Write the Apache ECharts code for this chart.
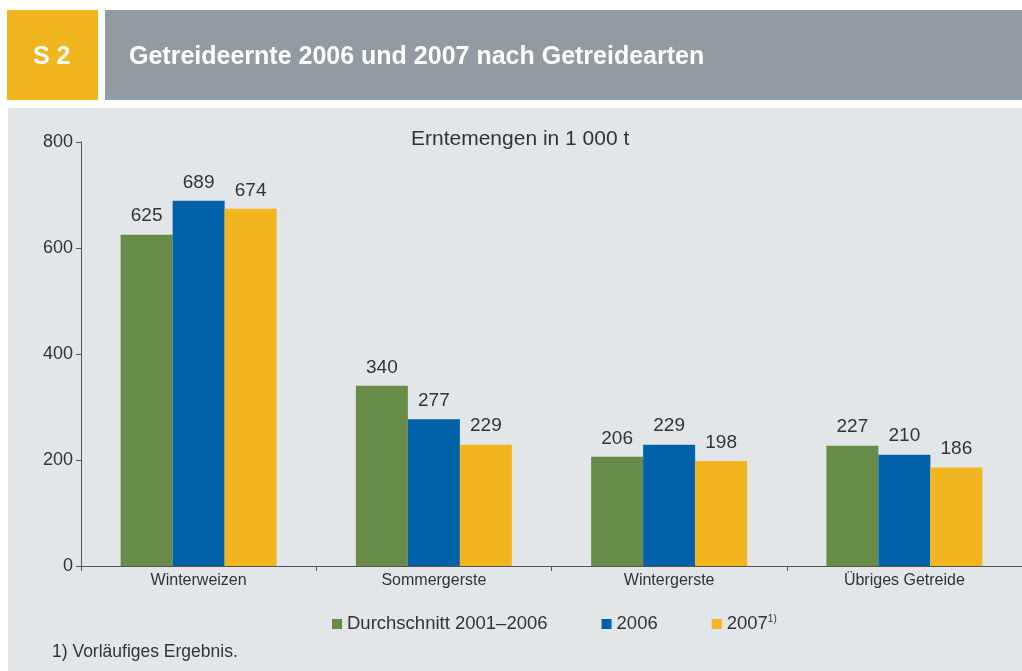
<!DOCTYPE html>
<html>
<head>
<meta charset="utf-8">
<script src="https://cdn.jsdelivr.net/npm/echarts@6/dist/echarts.min.js"></script>
<style>
  html, body { margin: 0; padding: 0; background: #fff; }
  #chart { width: 1022px; height: 671px; }
</style>
</head>
<body>
<div id="chart"></div>
<script>
const categories = ["Winterweizen", "Sommergerste", "Wintergerste", "Übriges Getreide"];
const avg20012006 = [625, 340, 206, 227];
const harvest2006 = [689, 277, 229, 210];
const harvest2007 = [674, 229, 198, 186];
const yTicks = [0, 200, 400, 600, 800];

const FONT = "Liberation Sans";
const TEXT = "#333";

const chart = echarts.init(document.getElementById("chart"));

const barLabel = {
  show: true,
  position: "top",
  distance: 9,
  color: TEXT,
  fontFamily: FONT,
  fontSize: 19,
};

chart.setOption({
  backgroundColor: "#fff",
  textStyle: { fontFamily: FONT },
  graphic: [
    // header
    { type: "rect", left: 7, top: 10, shape: { width: 91, height: 90 }, style: { fill: "#f0b51f" }, z: 0 },
    { type: "rect", left: 105, top: 10, shape: { width: 917, height: 90 }, style: { fill: "#929aa2" }, z: 0 },
    { type: "text", left: 33, top: 45, style: { text: "S 2", fill: "#fff", font: "bold 25px " + FONT }, z: 1 },
    { type: "text", left: 129, top: 45, style: { text: "Getreideernte 2006 und 2007 nach Getreidearten", fill: "#fff", font: "bold 25px " + FONT }, z: 1 },
    // panel
    { type: "rect", left: 8, top: 108, shape: { width: 1014, height: 563 }, style: { fill: "#e3e6e9" }, z: -10 },
    { type: "text", left: 52, top: 643, style: { text: "1) Vorläufiges Ergebnis.", fill: TEXT, font: "17.5px " + FONT }, z: 1 },
  ],
  title: {
    text: "Erntemengen in 1 000 t",
    left: 406,
    top: 124,
    textStyle: { color: TEXT, fontFamily: FONT, fontSize: 21, fontWeight: "normal" },
  },
  legend: {
    left: 327,
    top: 609,
    icon: "rect",
    itemWidth: 10,
    itemHeight: 10,
    itemGap: 54,
    textStyle: {
      color: TEXT,
      fontFamily: FONT,
      fontSize: 18.5,
      rich: {
        sup: { fontSize: 10, verticalAlign: "top", padding: [0, 0, 10, 0], color: TEXT, fontFamily: FONT },
      },
    },
    formatter: (name) => (name === "2007" ? name + "{sup|1)}" : name),
    data: ["Durchschnitt 2001–2006", "2006", "2007"],
  },
  grid: {
    left: 81,
    width: 948,
    top: 142,
    bottom: 105,
    containLabel: false,
  },
  xAxis: {
    type: "category",
    data: categories,
    axisLine: { lineStyle: { color: "#555", width: 1 } },
    axisTick: { show: true, length: 5, lineStyle: { color: "#555" } },
    axisLabel: { color: TEXT, fontFamily: FONT, fontSize: 16, margin: 7 },
  },
  yAxis: {
    type: "value",
    min: yTicks[0],
    max: yTicks[yTicks.length - 1],
    interval: 200,
    axisLine: { show: true, lineStyle: { color: "#555", width: 1 } },
    axisTick: { show: true, length: 5, lineStyle: { color: "#555" } },
    axisLabel: { color: TEXT, fontFamily: FONT, fontSize: 18, margin: 8 },
    splitLine: { show: false },
  },
  series: [
    {
      name: "Durchschnitt 2001–2006",
      type: "bar",
      barWidth: 52,
      barGap: "0%",
      itemStyle: { color: "#678c4a" },
      label: barLabel,
      data: avg20012006,
    },
    {
      name: "2006",
      type: "bar",
      barWidth: 52,
      barGap: "0%",
      itemStyle: { color: "#0060a8" },
      label: barLabel,
      data: harvest2006,
    },
    {
      name: "2007",
      type: "bar",
      barWidth: 52,
      barGap: "0%",
      itemStyle: { color: "#f0b51f" },
      label: barLabel,
      data: harvest2007,
    },
  ],
});
</script>
</body>
</html>
